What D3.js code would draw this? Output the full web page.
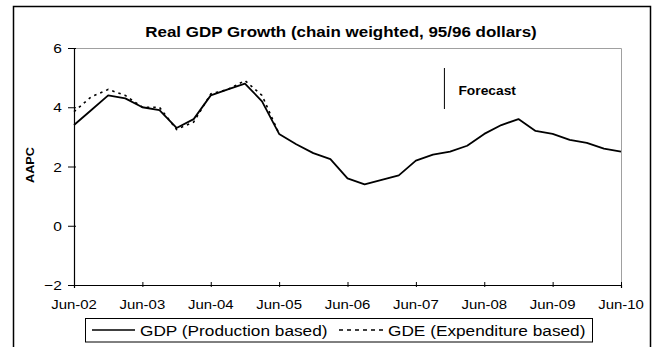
<!DOCTYPE html>
<html><head><meta charset="utf-8">
<script src="https://cdn.jsdelivr.net/npm/d3@7"></script>
<style>
html,body{margin:0;padding:0;background:#fff;}
svg{display:block;font-family:"Liberation Sans",Arial,sans-serif;}
</style></head>
<body>
<script>
// ---- data ----
const quarters = ["Jun-02","Sep-02","Dec-02","Mar-03","Jun-03","Sep-03","Dec-03","Mar-04",
  "Jun-04","Sep-04","Dec-04","Mar-05","Jun-05","Sep-05","Dec-05","Mar-06",
  "Jun-06","Sep-06","Dec-06","Mar-07","Jun-07","Sep-07","Dec-07","Mar-08",
  "Jun-08","Sep-08","Dec-08","Mar-09","Jun-09","Sep-09","Dec-09","Mar-10","Jun-10"];
const gdp = [3.4,3.9,4.4,4.3,4.0,3.9,3.3,3.6,4.4,4.6,4.8,4.2,3.1,2.75,2.45,2.25,
  1.6,1.4,1.55,1.7,2.2,2.4,2.5,2.7,3.1,3.4,3.6,3.2,3.1,2.9,2.8,2.6,2.5];
const gde = [3.85,4.35,4.6,4.4,4.0,4.0,3.25,3.5,4.45,4.6,4.9,4.4,3.1];
const xTickLabels = ["Jun-02","Jun-03","Jun-04","Jun-05","Jun-06","Jun-07","Jun-08","Jun-09","Jun-10"];
const yTicks = [-2,0,2,4,6];
const seriesNames = ["GDP (Production based)","GDE (Expenditure based)"];
const titleText = "Real GDP Growth (chain weighted, 95/96 dollars)";
const forecastAfter = "Sep-07";

// ---- layout ----
const W = 656, H = 347;
const L = 74, R = 621, T = 48, B = 285;
const SX = 1.15;

const svg = d3.select("body").append("svg").attr("width", W).attr("height", H);

const x = d3.scalePoint().domain(quarters).range([L, R]).padding(0);
const y = d3.scaleLinear().domain([-2, 6]).range([B, T]);

function txt(g, s, px, py, size, anchor, bold, sx) {
  return g.append("text")
    .attr("transform", `translate(${px},${py}) scale(${sx || SX},1)`)
    .attr("text-anchor", anchor)
    .attr("font-size", size)
    .attr("font-weight", bold ? "bold" : "normal")
    .attr("fill", "#000")
    .text(s);
}

// outer frame
svg.append("rect").attr("x", 13.5).attr("y", 6.5).attr("width", 637).attr("height", 400)
  .attr("fill", "none").attr("stroke", "#000").attr("stroke-width", 1.5);

// plot area border (grey top/right)
svg.append("path").attr("d", `M${L},${T+0.5}H${R+0.5}V${B}`)
  .attr("fill", "none").attr("stroke", "#a0a0a0").attr("stroke-width", 1);

// title
txt(svg, titleText, 341, 36.5, 14.5, "middle", true, 1.17);

// y axis
const ya = svg.append("g").attr("transform", `translate(${L},0)`)
  .call(d3.axisLeft(y).tickValues(yTicks).tickSize(6).tickFormat(""));
ya.select(".domain").attr("stroke", "#000").attr("stroke-width", 1.2);
ya.selectAll(".tick line").attr("x1", 2).attr("x2", -6).attr("stroke", "#000");
yTicks.forEach(v => txt(svg, d3.format("d")(v), L - 12, y(v) + 5, 13.5, "end", false));

// x axis
const xa = svg.append("g").attr("transform", `translate(0,${B})`)
  .call(d3.axisBottom(x).tickValues(xTickLabels).tickSize(3).tickFormat(""));
xa.select(".domain").attr("stroke", "#000").attr("stroke-width", 1.2);
xa.selectAll(".tick line").attr("y1", -3).attr("y2", 2).attr("stroke", "#000");
xTickLabels.forEach(q => txt(svg, q, x(q), B + 24, 13, "middle", false));

// y axis title
svg.append("text")
  .attr("transform", `translate(34,${165}) rotate(-90) scale(${SX},1)`)
  .attr("text-anchor", "middle").attr("font-size", 11).attr("font-weight", "bold")
  .text("AAPC");

// forecast marker (two thirds of a quarter after Sep-07)
const fx = x(forecastAfter) + x.step() * 0.67;
svg.append("line").attr("x1", fx).attr("x2", fx).attr("y1", 68).attr("y2", 109)
  .attr("stroke", "#000").attr("stroke-width", 1);
txt(svg, "Forecast", fx + 14, 95, 12, "start", true);

// lines
const line = d3.line().x((d, i) => x(quarters[i])).y(d => y(d));
svg.append("path").datum(gde).attr("d", line)
  .attr("fill", "none").attr("stroke", "#000").attr("stroke-width", 1.6)
  .attr("stroke-dasharray", "2.5,4");
svg.append("path").datum(gdp).attr("d", line)
  .attr("fill", "none").attr("stroke", "#000").attr("stroke-width", 1.8)
  .attr("stroke-linejoin", "round");

// legend
const lg = svg.append("g");
lg.append("rect").attr("x", 85.5).attr("y", 318.5).attr("width", 507).attr("height", 23.5)
  .attr("fill", "#fff").attr("stroke", "#000").attr("stroke-width", 1);
lg.append("line").attr("x1", 92).attr("x2", 135).attr("y1", 330).attr("y2", 330)
  .attr("stroke", "#000").attr("stroke-width", 1.5);
txt(lg, seriesNames[0], 140, 336, 15, "start", false);
lg.append("line").attr("x1", 339).attr("x2", 385).attr("y1", 330).attr("y2", 330)
  .attr("stroke", "#000").attr("stroke-width", 1.5).attr("stroke-dasharray", "4,4");
txt(lg, seriesNames[1], 388, 336, 15, "start", false);
</script>
</body></html>
